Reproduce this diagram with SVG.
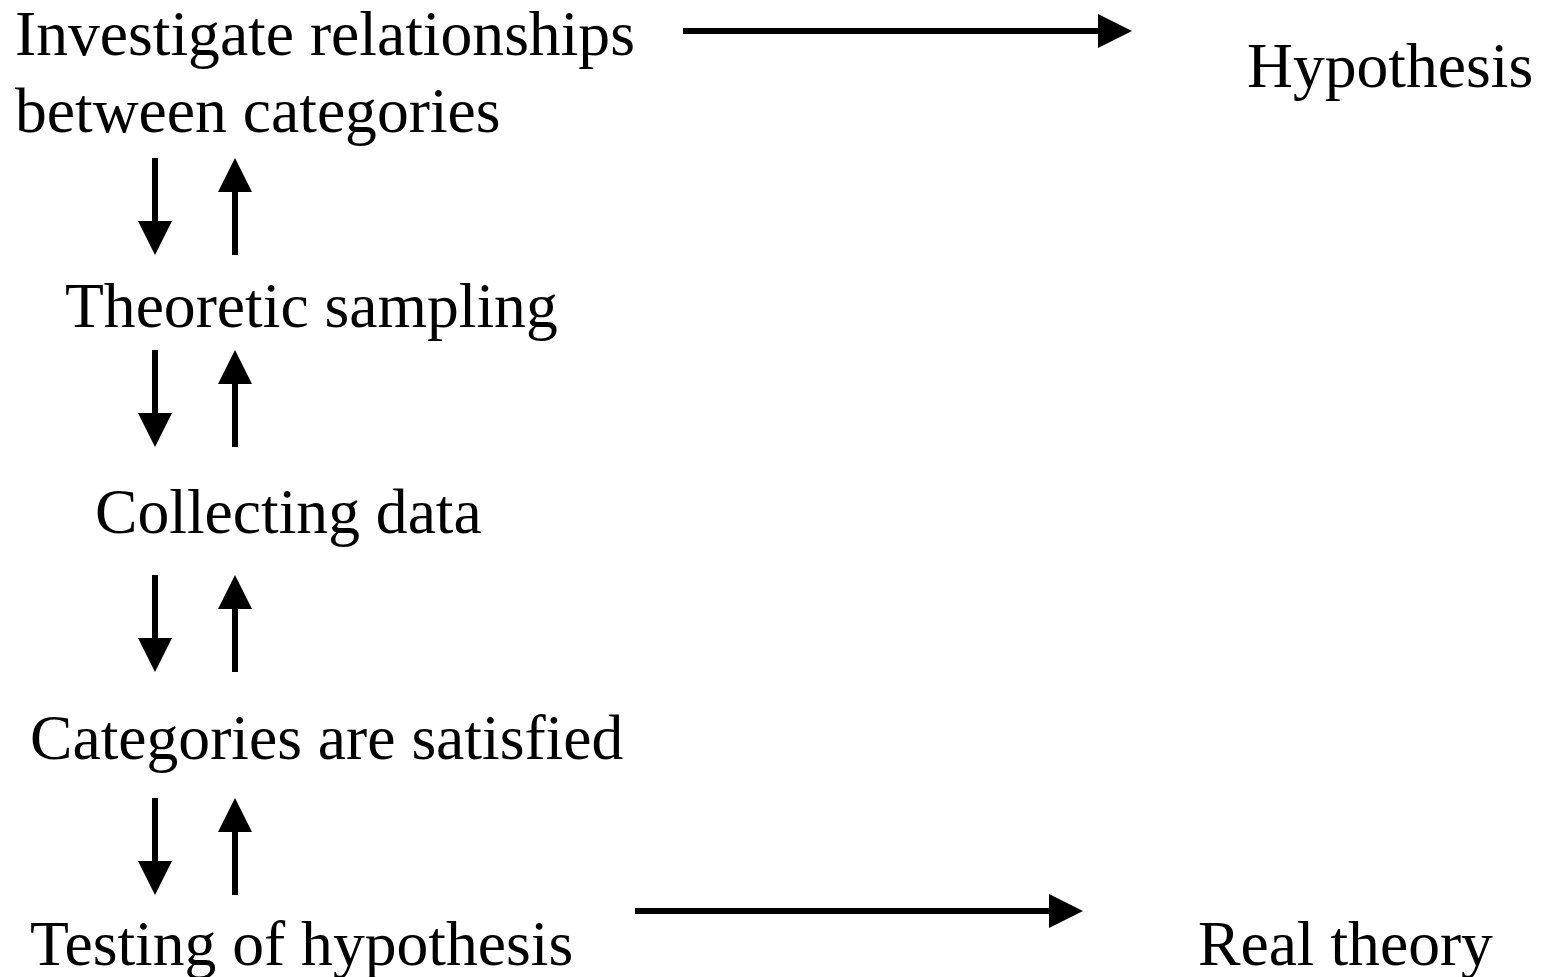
<svg xmlns="http://www.w3.org/2000/svg" width="1546" height="977" viewBox="0 0 1546 977">
<style>
text{font-family:"Liberation Serif","Times New Roman",serif;font-size:63.6px;fill:#000}
.c{stroke:#000;stroke-width:6;fill:none}
</style>
<defs>
<marker id="ah" markerUnits="userSpaceOnUse" markerWidth="34" markerHeight="34" viewBox="0 0 34 34" refX="0" refY="17" orient="auto"><path d="M0,0 L34,17 L0,34 z" fill="#000"/></marker>
</defs>
<rect width="1546" height="977" fill="#fff"/>
<g id="n1"><text x="15" y="55">Investigate relationships</text><text x="15" y="132">between categories</text></g>
<g id="n2"><text x="1247" y="87">Hypothesis</text></g>
<g id="n3"><text x="65" y="327">Theoretic sampling</text></g>
<g id="n4"><text x="95" y="533">Collecting data</text></g>
<g id="n5"><text x="30" y="759">Categories are satisfied</text></g>
<g id="n6"><text x="30" y="965">Testing of hypothesis</text></g>
<g id="n7"><text x="1198" y="965">Real theory</text></g>
<g id="connectors">
<line class="c" x1="683" y1="31" x2="1098" y2="31" marker-end="url(#ah)"/>
<line class="c" x1="635" y1="911" x2="1049" y2="911" marker-end="url(#ah)"/>
<line class="c" x1="155" y1="158" x2="155" y2="221" marker-end="url(#ah)"/>
<line class="c" x1="235" y1="255" x2="235" y2="192" marker-end="url(#ah)"/>
<line class="c" x1="155" y1="350" x2="155" y2="413" marker-end="url(#ah)"/>
<line class="c" x1="235" y1="447" x2="235" y2="384" marker-end="url(#ah)"/>
<line class="c" x1="155" y1="575" x2="155" y2="638" marker-end="url(#ah)"/>
<line class="c" x1="235" y1="672" x2="235" y2="609" marker-end="url(#ah)"/>
<line class="c" x1="155" y1="798" x2="155" y2="861" marker-end="url(#ah)"/>
<line class="c" x1="235" y1="895" x2="235" y2="832" marker-end="url(#ah)"/>
</g>
</svg>
